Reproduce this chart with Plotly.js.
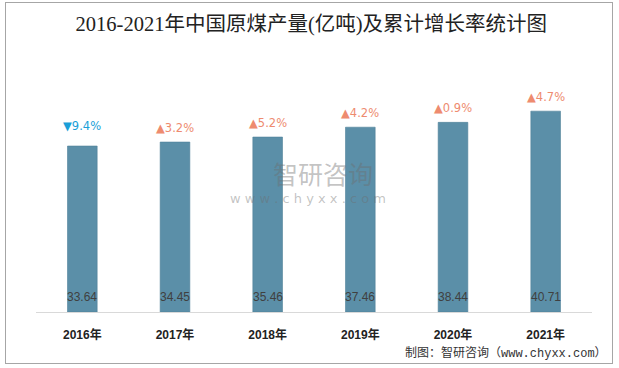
<!DOCTYPE html>
<html>
<head>
<meta charset="utf-8">
<script src="https://cdn.plot.ly/plotly-3.0.1.min.js"></script>
<style>
html,body{margin:0;padding:0;background:#fff;}
#wrap{position:relative;width:619px;height:368px;}
#chart{width:619px;height:368px;}
#frame{position:absolute;left:5px;top:2px;width:606px;height:360px;border:1px solid #a6a6a6;pointer-events:none;}
</style>
</head>
<body>
<div id="wrap"><div id="chart"></div><div id="frame"></div></div>
<script>
const years = ['2016年','2017年','2018年','2019年','2020年','2021年'];
const output = [33.64, 34.45, 35.46, 37.46, 38.44, 40.71];
const growth = [-9.4, 3.2, 5.2, 4.2, 0.9, 4.7];

const cjk = 'Noto Sans CJK SC';
const bar = {
  type: 'bar',
  x: years,
  y: output,
  marker: {color: '#5b8fa8', line: {color: '#4f8299', width: 0.6}},
  hoverinfo: 'x+y'
};

const annotations = [];
years.forEach((yr, i) => {
  annotations.push({
    x: yr, y: 0, xref: 'x', yref: 'y',
    text: output[i].toFixed(2), showarrow: false,
    yanchor: 'middle', yshift: 15,
    font: {family: 'Liberation Sans, ' + cjk, size: 12, color: '#404040'}
  });
  const down = growth[i] < 0;
  annotations.push({
    x: yr, y: output[i], xref: 'x', yref: 'y',
    text: (down ? '▼' : '▲') + Math.abs(growth[i]).toFixed(1) + '%',
    showarrow: false, yanchor: 'middle', yshift: down ? 20 : 14,
    font: {family: 'DejaVu Sans, ' + cjk, size: 11.5, color: down ? '#1b9fd8' : '#ee8b6f'}
  });
});
// watermark
annotations.push({
  xref: 'paper', yref: 'paper', x: 0.516, y: 0.625, xanchor: 'center', yanchor: 'middle',
  text: '智研咨询', showarrow: false, borderpad: 0,
  font: {family: cjk, size: 25, color: 'rgba(110,110,110,0.42)'}
});
annotations.push({
  xref: 'paper', yref: 'paper', x: 0.49, y: 0.51, xanchor: 'center', yanchor: 'middle',
  text: 'w w w . c h y x x . c o m', showarrow: false, borderpad: 0,
  font: {family: 'DejaVu Sans', size: 13, color: 'rgba(110,110,110,0.42)'}
});
// source
annotations.push({
  xref: 'paper', yref: 'paper', x: 1.03, y: -0.185, xanchor: 'right', yanchor: 'middle',
  text: '制图：智研咨询（www.chyxx.com）', showarrow: false,
  font: {family: 'Liberation Mono, ' + cjk, size: 12, color: '#333'}
});

const layout = {
  width: 619, height: 368,
  margin: {l: 36, r: 27, t: 90, b: 56},
  paper_bgcolor: '#fff', plot_bgcolor: '#fff',
  title: {
    text: '2016-2021年中国原煤产量(亿吨)及累计增长率统计图',
    x: 0.503, xanchor: 'center', y: 0.935, yanchor: 'middle',
    font: {family: 'Liberation Serif, ' + cjk, size: 20.5, color: '#222', weight: 'normal'}
  },
  bargap: 0.68,
  showlegend: false,
  xaxis: {
    type: 'category',
    showline: true, linecolor: '#d9d9d9', linewidth: 1,
    ticks: '', ticklabelstandoff: 12,
    tickfont: {family: 'Liberation Sans, ' + cjk, size: 12, color: '#222', weight: 'bold'},
    showgrid: false, zeroline: false
  },
  yaxis: {
    range: [0, 45], visible: false, showgrid: false, zeroline: false
  },
  annotations: annotations
};

Plotly.newPlot('chart', [bar], layout, {displayModeBar: false, staticPlot: true});
</script>
</body>
</html>
